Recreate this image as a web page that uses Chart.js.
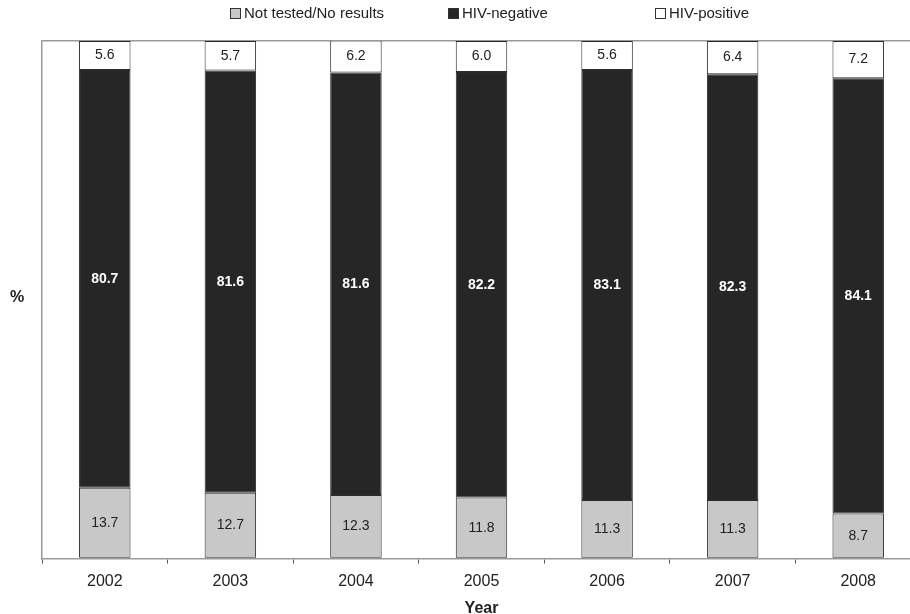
<!DOCTYPE html>
<html lang="en">
<head>
    <meta charset="UTF-8">
    <title>HIV test results by year</title>
    <script src="https://cdn.jsdelivr.net/npm/chart.js"></script>
    <style>
        html, body { margin: 0; padding: 0; overflow: hidden; background: #fff; }
        #wrap { position: relative; width: 910px; height: 614px; overflow: hidden; }
        .lg { position: absolute; top: 4px; font: 15px "Liberation Sans", Arial, sans-serif; color: #222; white-space: nowrap; }
        .lg span { display: inline-block; width: 11px; height: 11px; border: 1px solid #333; margin-right: 3px; vertical-align: -1px; box-sizing: border-box; }
        #pct { position: absolute; left: 10px; top: 288px; font: bold 16px "Liberation Sans", Arial, sans-serif; color: #222; }
    </style>
</head>
<body>
<div id="wrap">
    <canvas id="hivChart" width="921" height="614"></canvas>
    <div id="legend"></div>
    <div id="pct">%</div>
</div>
<script>
    const years = ['2002', '2003', '2004', '2005', '2006', '2007', '2008'];
    const notTested = [13.7, 12.7, 12.3, 11.8, 11.3, 11.3, 8.7];
    const hivNegative = [80.7, 81.6, 81.6, 82.2, 83.1, 82.3, 84.1];
    const hivPositive = [5.6, 5.7, 6.2, 6.0, 5.6, 6.4, 7.2];
    const seriesNames = ['Not tested/No results', 'HIV-negative', 'HIV-positive'];
    const seriesColors = ['#c8c8c8', '#262626', '#ffffff'];

    // html legend, spaced like the original
    const legendX = [230, 448, 655];
    const legend = document.getElementById('legend');
    seriesNames.forEach((name, i) => {
        const d = document.createElement('div');
        d.className = 'lg';
        d.style.left = legendX[i] + 'px';
        d.innerHTML = '<span style="background:' + seriesColors[i] + '"></span>' + name;
        legend.appendChild(d);
    });

    // value labels in the middle of each segment
    const valueLabels = {
        id: 'valueLabels',
        afterDatasetsDraw(chart) {
            const c = chart.ctx;
            c.save();
            c.textAlign = 'center';
            c.textBaseline = 'middle';
            chart.data.datasets.forEach((ds, i) => {
                const meta = chart.getDatasetMeta(i);
                meta.data.forEach((bar, j) => {
                    const dark = i === 1;
                    c.fillStyle = dark ? '#ffffff' : '#222';
                    c.font = (dark ? 'bold ' : '') + '14px "Liberation Sans", Arial, sans-serif';
                    const mid = (bar.y + bar.base) / 2;
                    c.fillText(ds.data[j].toFixed(1), bar.x, mid);
                });
            });
            c.restore();
        }
    };

    const ctx = document.getElementById('hivChart').getContext('2d');
    const myChart = new Chart(ctx, {
        type: 'bar',
        data: {
            labels: years,
            datasets: [notTested, hivNegative, hivPositive].map((vals, i) => ({
                label: seriesNames[i],
                data: vals,
                backgroundColor: seriesColors[i],
                borderColor: '#2a2a2a',
                borderWidth: 1,
                borderSkipped: false,
                categoryPercentage: 1,
                barPercentage: 0.41
            }))
        },
        options: {
            responsive: false,
            animation: false,
            layout: { padding: { top: 41, left: 42, right: 0, bottom: 0 } },
            plugins: {
                legend: { display: false },
                tooltip: { enabled: false }
            },
            scales: {
                x: {
                    stacked: true,
                    offset: true,
                    grid: {
                        offset: true,
                        drawOnChartArea: false,
                        drawTicks: true,
                        tickLength: 5,
                        color: '#555'
                    },
                    border: { display: true, color: '#999', width: 1.5 },
                    ticks: {
                        padding: 8,
                        color: '#222',
                        font: { family: '"Liberation Sans", Arial, sans-serif', size: 16 }
                    },
                    title: {
                        display: true,
                        text: 'Year',
                        color: '#222',
                        padding: { top: 0, bottom: -4 },
                        font: { family: '"Liberation Sans", Arial, sans-serif', size: 16, weight: 'bold' }
                    }
                },
                y: {
                    stacked: true,
                    min: 0,
                    max: 100,
                    ticks: { display: false, stepSize: 100 },
                    grid: {
                        drawTicks: false,
                        color: (c) => c.tick && c.tick.value === 100 ? '#999' : 'rgba(0,0,0,0)',
                        lineWidth: 1.5
                    },
                    border: { display: true, color: '#999', width: 1.5 }
                }
            }
        },
        plugins: [valueLabels]
    });
</script>
</body>
</html>
